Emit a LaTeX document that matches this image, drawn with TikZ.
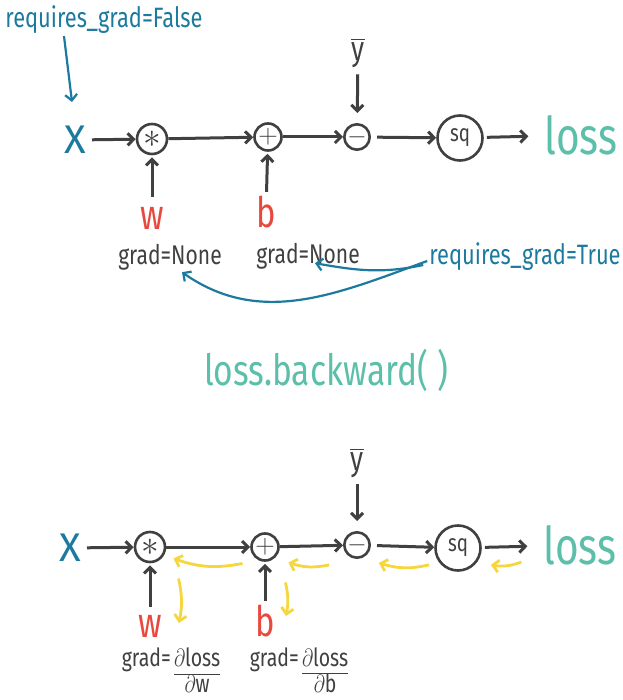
\documentclass[tikz,border=0pt]{standalone}
\usepackage{fontspec}
\usepackage{amsmath}
\usepackage{graphicx}
\setmainfont{Fira Sans}
\usetikzlibrary{
    arrows.meta
}
\definecolor{ink}{HTML}{404040}
\definecolor{azure}{HTML}{1B7A9E}
\definecolor{brick}{HTML}{E8493F}
\definecolor{mint}{HTML}{5CBFAA}
\definecolor{gold}{HTML}{F5D63D}
\newcommand{\slim}[1]{\scalebox{.78}[1]{#1}}
\newcommand{\opsym}[2][1]{\scalebox{#1}{\(#2\)}}
\newcommand{\ratio}[2]{\raisebox{-.42\height}{\begin{tabular}{@{}c@{}}#1\\[-1pt]\hline\rule{0pt}{18pt}#2\end{tabular}}}
\tikzset{
    >={Straight Barb[length=6pt,width=12pt]},
    op/.style={
        circle,
        draw=ink,
        line width=2.6pt,
        inner sep=0pt,
        text=ink,
        font=\fontsize{20}{20}\selectfont
    },
    flow/.style={->, draw=ink, line width=3pt},
    gradflow/.style={->, draw=gold, line width=2.8pt},
    hint/.style={->, draw=azure, line width=2.2pt},
    tag/.style={inner sep=2pt, text=azure, font=\fontsize{28}{30}\selectfont},
    gradtag/.style={inner sep=2pt, text=ink, font=\fontsize{27}{30}\selectfont},
    param/.style={inner sep=2pt, text=brick, font=\fontsize{42}{42}\selectfont},
    input/.style={inner sep=2pt, text=azure, font=\fontsize{40}{40}\selectfont},
    result/.style={inner sep=2pt, text=mint, font=\fontsize{52}{52}\selectfont},
    target/.style={inner sep=2pt, text=ink, font=\fontsize{34}{34}\selectfont}
}

\begin{document}
\begin{tikzpicture}[
    x=1pt,
    y=-1pt
]
    \useasboundingbox (0,0) rectangle (622,700);

    % Grafo de ida
    \node[tag]                       (fls)   at (104,20)  {\slim{requires\_grad=False}};
    \node[input]                     (x1)    at (75,140)  {X};
    \node[op, minimum size=30pt]     (mul1)  at (152,139) {\opsym[1.7]{\ast}};
    \node[op, minimum size=27pt]     (add1)  at (268,137) {\opsym[1.3]{+}};
    \node[op, minimum size=25pt]     (sub1)  at (357,137) {\opsym[1.2]{-}};
    \node[op, minimum size=45pt, font=\fontsize{24}{24}\selectfont]
                                     (sq1)   at (460,138) {\slim{sq}};
    \node[result]                    (loss1) at (581,135) {\slim{loss}};
    \node[target]                    (ybar1) at (358,53)  {\(\overline{\mbox{\slim{y}}}\)};
    \node[param]                     (w1)    at (152,218) {\slim{w}};
    \node[param]                     (b1)    at (266,212) {\slim{b}};
    \node[gradtag]                   (gn1)   at (170,257) {\slim{grad=None}};
    \node[gradtag]                   (gn2)   at (308,256) {\slim{grad=None}};
    \node[tag]                       (tru)   at (525,257) {\slim{requires\_grad=True}};

    \path[flow]
        (x1)    edge[shorten <=4pt] (mul1)
        (mul1)  edge (add1)
        (add1)  edge (sub1)
        (sub1)  edge[shorten <=6pt] (sq1)
        (sq1)   edge[shorten <=3pt, shorten >=14pt] (loss1)
        (ybar1) edge[shorten <=4pt, shorten >=10pt] (sub1)
        (w1)    edge[shorten <=8pt, shorten >=2pt] (mul1)
        (b1)    edge[shorten <=2pt, shorten >=2pt] (add1);

    % Notas
    \draw[hint] ([xshift=-40pt]fls.south) -- ([xshift=-3pt,yshift=22pt]x1.north);
    \draw[hint] ([yshift=-4pt]tru.west)
        to[out=200, in=-35] ([xshift=12pt]gn1.south);
    \draw[hint] ([xshift=-4pt,yshift=-8pt]tru.west)
        to[out=192, in=-10] ([xshift=7pt,yshift=8pt]gn2.south);

    % Titulo
    \node[result, font=\fontsize{43}{43}\selectfont] (call) at (326,370) {\slim{loss.backward( )}};

    % Grafo de vuelta
    \node[input]                     (x2)    at (70,548)  {X};
    \node[op, minimum size=30pt]     (mul2)  at (150,547) {\opsym[1.7]{\ast}};
    \node[op, minimum size=27pt]     (add2)  at (265,547) {\opsym[1.3]{+}};
    \node[op, minimum size=25pt]     (sub2)  at (357,545) {\opsym[1.2]{-}};
    \node[op, minimum size=45pt, font=\fontsize{24}{24}\selectfont]
                                     (sq2)   at (458,548) {\slim{sq}};
    \node[result]                    (loss2) at (580,545) {\slim{loss}};
    \node[target]                    (ybar2) at (357,463) {\(\overline{\mbox{\slim{y}}}\)};
    \node[param]                     (w2)    at (150,626) {\slim{w}};
    \node[param]                     (b2)    at (265,621) {\slim{b}};
    \node[gradtag, font=\fontsize{25}{26}\selectfont]
                                     (gw)    at (171,674) {\slim{grad=\,\ratio{\(\partial\)loss}{\(\partial\)w}}};
    \node[gradtag, font=\fontsize{25}{26}\selectfont]
                                     (gb)    at (299,674) {\slim{grad=\,\ratio{\(\partial\)loss}{\(\partial\)b}}};

    \path[flow]
        (x2)    edge[shorten <=4pt] (mul2)
        (mul2)  edge (add2)
        (add2)  edge (sub2)
        (sub2)  edge[shorten <=6pt] (sq2)
        (sq2)   edge[shorten <=3pt, shorten >=14pt] (loss2)
        (ybar2) edge[shorten <=4pt, shorten >=10pt] (sub2)
        (w2)    edge[shorten <=6pt, shorten >=2pt] (mul2)
        (b2)    edge[shorten <=2pt, shorten >=2pt] (add2);

    % Gradientes
    \draw[gradflow] ([xshift=-12pt,yshift=-6pt]add2.south west)
        to[bend left=15] ([xshift=12pt]mul2.south east);
    \draw[gradflow] ([xshift=-18pt,yshift=-10pt]sub2.south west)
        to[bend left=15] ([xshift=13pt,yshift=-5pt]add2.south east);
    \draw[gradflow] ([xshift=-12pt]sq2.south west)
        to[bend left=15] ([xshift=12pt,yshift=-8pt]sub2.south east);
    \draw[gradflow] ([xshift=-20pt,yshift=-17pt]loss2.west)
        to[bend left=15] ([xshift=16pt]sq2.south east);
    \draw[gradflow] ([xshift=17pt,yshift=-20pt]mul2.south east)
        to[bend left=12] ([xshift=15pt,yshift=3pt]w2.east);
    \draw[gradflow] ([xshift=10pt,yshift=-25pt]add2.south east)
        to[bend left=12] ([xshift=9pt,yshift=5pt]b2.east);

\end{tikzpicture}
\end{document}
